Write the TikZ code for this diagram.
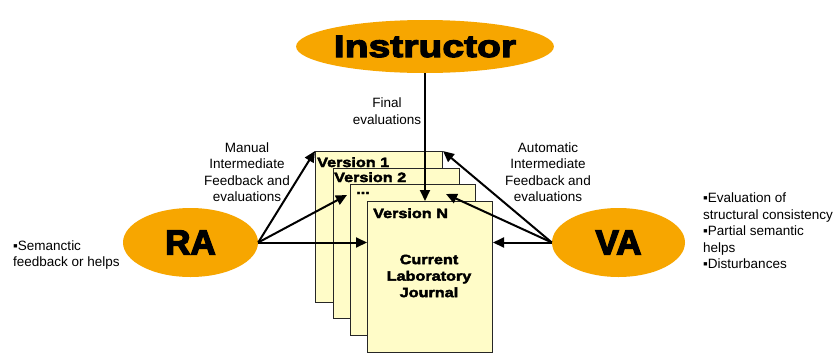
\documentclass[tikz,border=0pt]{standalone}
\usepackage{fontspec}
\setmainfont{Liberation Sans}
\newfontface\heavy{Liberation Sans Bold}[FakeStretch=1.2,FakeBold=3]
\newfontface\heavyx{Liberation Sans Bold}[FakeStretch=1.26,FakeBold=4]
\newfontface\heavyra{Liberation Sans Bold}[FakeBold=4]
\usetikzlibrary{arrows.meta,calc,shapes.geometric}
\definecolor{orangeA}{RGB}{247,166,0}
\definecolor{pageY}{RGB}{255,252,200}
\begin{document}
\begin{tikzpicture}[x=1pt,y=-1pt,
  agent/.style={ellipse, fill=orangeA, inner sep=0pt},
  page/.style={draw=black!85, line width=1pt, fill=pageY, anchor=north west, inner sep=0pt},
  lbl/.style={font=\fontsize{13.5}{16.5}\selectfont, align=center, inner sep=0pt},
  ver/.style={font=\heavy\fontsize{13.5}{16.5}\selectfont, inner sep=0pt},
  arr/.style={line width=2pt, -{Triangle[length=11pt,width=10pt]}},
]
\useasboundingbox (0,0) rectangle (839,354);
\fill[white] (0,0) rectangle (839,354);

% agents
\node[agent, minimum width=200pt, minimum height=53pt] (instr) at (425,46.5)
  {\heavyx\fontsize{31}{34}\selectfont Instructor};
\node[agent, minimum width=135pt, minimum height=69pt] (ra) at (190.5,242.5)
  {\heavyra\fontsize{35}{38}\selectfont RA};
\node[agent, minimum width=133pt, minimum height=69pt] (va) at (618.5,242.5)
  {\heavyra\fontsize{35}{38}\selectfont VA};

% pages
\node[page, minimum width=127pt, minimum height=151pt] (p1) at (315,151) {};
\node[page, minimum width=126pt, minimum height=150pt] (p2) at (333,168) {};
\node[page, minimum width=125pt, minimum height=151pt] (p3) at (350,184) {};
\node[page, minimum width=125pt, minimum height=151pt] (p4) at (367,201) {};

\node[ver, anchor=base west] (v1) at (317,167) {Version 1};
\node[ver, anchor=base west] (v2) at (334,182) {Version 2};
\node[ver, anchor=base west] (v3) at (356,194) {...};
\node[ver, anchor=base west] (vn) at (373,218) {Version N};
\node[ver, align=center] (clj) at (429,276) {Current\\Laboratory\\Journal};

% labels
\node[lbl] (final) at (387,111) {Final\\evaluations};
\node[lbl] (manual) at (247,172) {Manual\\Intermediate\\Feedback and\\evaluations};
\node[lbl] (auto) at (548,172) {Automatic\\Intermediate\\Feedback and\\evaluations};
\node[lbl, align=left, anchor=west] (sem) at (13,255) {▪Semanctic\\feedback or helps};
\node[lbl, align=left, anchor=west] (vat) at (703,231)
  {▪Evaluation of\\structural consistency\\▪Partial semantic\\helps\\▪Disturbances};

% connectors
\draw[arr] (instr.south) -- (instr.south |- p4.north);
\draw[arr] (ra.east) -- (p1.north west);
\draw[arr] (ra.east) -- ([xshift=-3pt,yshift=-11pt]p3.north west);
\draw[arr] (ra.east) -- (ra.east -| p4.west);
\draw[arr] (va.west) -- (p1.north east);
\draw[arr] (va.west) -- ([xshift=-30pt,yshift=-10pt]p3.north east);
\draw[arr] (va.west) -- (va.west -| p4.east);
\end{tikzpicture}
\end{document}
